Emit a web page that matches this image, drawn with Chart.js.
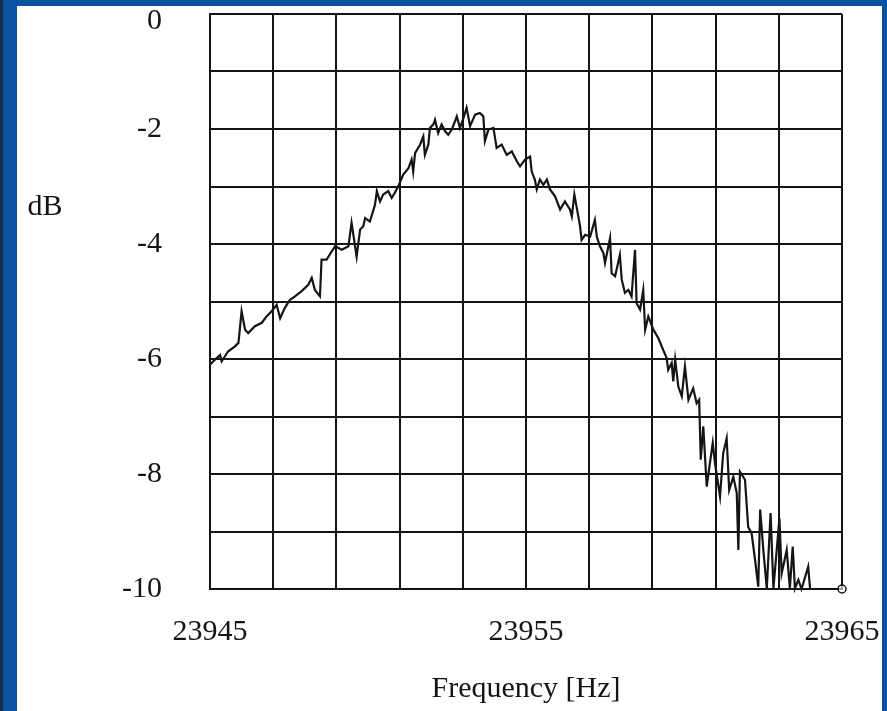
<!DOCTYPE html>
<html>
<head>
<meta charset="utf-8">
<script src="https://cdn.jsdelivr.net/npm/chart.js@4"></script>
<style>
  html, body { margin: 0; padding: 0; }
  body { width: 887px; height: 711px; background: #0a53a2; position: relative; overflow: hidden; }
  #edge { position: absolute; left: 0; top: 0; width: 3px; height: 711px; background: #1c2c48; }
  #panel { position: absolute; left: 17px; top: 6px; width: 865px; height: 705px; background: #fff; }
</style>
</head>
<body>
<div id="edge"></div>
<div id="panel"><canvas id="myChart" width="865" height="705"></canvas></div>
<script>
// frequency response
const freqHz = [
  23945.00, 23945.16, 23945.32, 23945.37, 23945.57, 23945.79, 23945.90, 23946.00, 23946.11, 23946.21,
  23946.42, 23946.64, 23946.79, 23946.95, 23947.11, 23947.22, 23947.37, 23947.53, 23947.69, 23947.90,
  23948.11, 23948.22, 23948.32, 23948.48, 23948.53, 23948.69, 23948.85, 23948.96, 23949.17, 23949.38,
  23949.48, 23949.64, 23949.75, 23949.85, 23949.91, 23950.06, 23950.22, 23950.28, 23950.38, 23950.48,
  23950.64, 23950.75, 23950.85, 23950.98, 23951.12, 23951.28, 23951.38, 23951.43, 23951.49, 23951.65,
  23951.75, 23951.80, 23951.91, 23951.96, 23952.07, 23952.12, 23952.22, 23952.33, 23952.44, 23952.54,
  23952.65, 23952.75, 23952.81, 23952.91, 23953.02, 23953.12, 23953.23, 23953.39, 23953.54, 23953.65,
  23953.70, 23953.81, 23953.97, 23954.07, 23954.23, 23954.39, 23954.55, 23954.71, 23954.81, 23954.97,
  23955.13, 23955.18, 23955.28, 23955.34, 23955.44, 23955.55, 23955.66, 23955.76, 23955.92, 23956.08,
  23956.23, 23956.39, 23956.45, 23956.53, 23956.60, 23956.71, 23956.76, 23956.87, 23957.03, 23957.18,
  23957.24, 23957.34, 23957.45, 23957.50, 23957.66, 23957.71, 23957.82, 23957.97, 23958.03, 23958.13,
  23958.24, 23958.34, 23958.45, 23958.50, 23958.61, 23958.71, 23958.77, 23958.87, 23959.03, 23959.19,
  23959.34, 23959.45, 23959.50, 23959.61, 23959.66, 23959.72, 23959.82, 23959.93, 23960.03, 23960.14,
  23960.29, 23960.40, 23960.48, 23960.53, 23960.61, 23960.72, 23960.82, 23960.91, 23960.98, 23961.14,
  23961.24, 23961.35, 23961.43, 23961.56, 23961.67, 23961.72, 23961.77, 23961.93, 23962.03, 23962.14,
  23962.25, 23962.35, 23962.41, 23962.51, 23962.62, 23962.74, 23962.83, 23963.02, 23963.09, 23963.25,
  23963.35, 23963.44, 23963.51, 23963.62, 23963.72, 23963.93, 23963.99, 23965.00
];
const levelDb = [
  -6.10, -6.01, -5.93, -6.04, -5.87, -5.78, -5.72, -5.17, -5.49, -5.55,
  -5.43, -5.37, -5.26, -5.17, -5.06, -5.29, -5.11, -4.97, -4.91, -4.82,
  -4.71, -4.59, -4.80, -4.91, -4.27, -4.27, -4.13, -4.04, -4.10, -4.04,
  -3.63, -4.22, -3.75, -3.69, -3.55, -3.61, -3.32, -3.08, -3.26, -3.14,
  -3.08, -3.20, -3.11, -2.97, -2.79, -2.68, -2.53, -2.74, -2.42, -2.27,
  -2.13, -2.45, -2.27, -1.98, -1.92, -1.84, -2.07, -1.92, -2.04, -2.10,
  -2.01, -1.87, -1.78, -1.98, -1.81, -1.63, -1.95, -1.75, -1.72, -1.78,
  -2.21, -2.01, -1.98, -2.33, -2.27, -2.45, -2.39, -2.56, -2.65, -2.53,
  -2.48, -2.74, -2.88, -3.05, -2.88, -2.97, -2.88, -3.05, -3.17, -3.40,
  -3.26, -3.40, -3.52, -3.14, -3.35, -3.69, -3.93, -3.84, -3.87, -3.58,
  -3.87, -4.04, -4.16, -4.33, -3.90, -4.51, -4.56, -4.19, -4.62, -4.85,
  -4.80, -4.91, -4.10, -5.03, -5.14, -4.80, -5.49, -5.26, -5.49, -5.64,
  -5.84, -5.98, -6.19, -6.07, -6.39, -6.01, -6.48, -6.65, -6.13, -6.71,
  -6.51, -6.77, -6.71, -7.75, -7.17, -8.22, -7.81, -7.46, -7.81, -8.39,
  -7.64, -7.38, -8.28, -8.05, -8.33, -9.32, -7.96, -8.10, -8.92, -9.03,
  -9.50, -9.96, -8.62, -9.32, -9.99, -8.68, -9.99, -8.77, -9.73, -9.32,
  -9.99, -9.26, -9.99, -9.84, -10.00, -9.61, -10.00, -10.00
];

const xTickLabels = [23945, 23955, 23965];
const yTickLabels = [0, -2, -4, -6, -8, -10];
const xTitle = "Frequency [Hz]";
const yTitle = "dB";

const ink = "#151515";
const serif = { family: '"Liberation Serif", "Times New Roman", serif', size: 30 };

const dbLabel = {
  id: "dbLabel",
  afterDraw(chart) {
    const ctx = chart.ctx;
    const area = chart.chartArea;
    ctx.save();
    ctx.font = '30px "Liberation Serif", serif';
    ctx.fillStyle = ink;
    ctx.textAlign = "center";
    ctx.textBaseline = "middle";
    ctx.fillText(yTitle, area.left - 165, area.top + 193);
    ctx.restore();
  }
};

const points = freqHz.map((f, i) => ({ x: f, y: levelDb[i] }));
const last = points.length - 1;

const ctx = document.getElementById("myChart").getContext("2d");
new Chart(ctx, {
  type: "line",
  data: {
    datasets: [{
      data: points,
      borderColor: ink,
      borderWidth: 2.2,
      tension: 0,
      clip: 8,
      pointRadius: points.map((_, i) => i === last ? 4 : 0),
      pointBorderColor: ink,
      pointBackgroundColor: "rgba(255,255,255,0.6)",
      pointBorderWidth: 1.5
    }]
  },
  options: {
    responsive: false,
    animation: false,
    devicePixelRatio: 1,
    layout: { padding: { left: 0, right: 40, top: 8, bottom: 0 } },
    plugins: { legend: { display: false }, tooltip: { enabled: false } },
    scales: {
      x: {
        type: "linear",
        min: 23945,
        max: 23965,
        afterFit: s => { s.height = 122; s.paddingLeft = 0; s.paddingRight = 0; },
        ticks: {
          stepSize: 2,
          autoSkip: false,
          maxRotation: 0,
          padding: 25,
          color: ink,
          font: serif,
          callback: v => xTickLabels.includes(v) ? String(v) : ""
        },
        grid: { color: ink, lineWidth: 2, drawTicks: false },
        border: { color: ink, width: 2 },
        title: { display: true, text: xTitle, color: ink, font: serif, padding: { top: 0, bottom: 4 } }
      },
      y: {
        min: -10,
        max: 0,
        afterFit: s => { s.width = 193; s.paddingTop = 0; s.paddingBottom = 0; },
        ticks: {
          stepSize: 1,
          autoSkip: false,
          padding: 48,
          color: ink,
          // the top label sits a little below its grid line, as in the scan
          font: c => (c.tick && c.tick.value === 0) ? { ...serif, lineHeight: 0.45 } : serif,
          callback: v => v === 0 ? ["", "0"] : (yTickLabels.includes(v) ? String(v) : "")
        },
        grid: { color: ink, lineWidth: 2, drawTicks: false },
        border: { color: ink, width: 2 }
      }
    }
  },
  plugins: [dbLabel]
});
</script>
</body>
</html>
